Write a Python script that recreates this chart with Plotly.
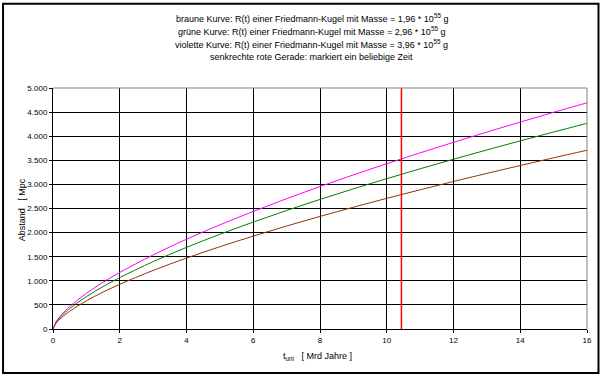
import plotly.graph_objects as go

t = [0, 0.1, 0.25, 0.5, 1, 1.5, 2, 3, 4, 5, 6, 7, 8, 9, 10, 11, 12, 13, 14, 15, 16]
braun = [0, 126, 232, 368, 584, 766, 927, 1215, 1471, 1707, 1927, 2137, 2336, 2527, 2711, 2888, 3061, 3229, 3392, 3552, 3708]
gruen = [0, 145, 267, 423, 672, 880, 1066, 1398, 1693, 1965, 2218, 2459, 2688, 2908, 3119, 3324, 3522, 3715, 3904, 4087, 4267]
violett = [0, 159, 293, 466, 739, 968, 1173, 1537, 1862, 2161, 2439, 2704, 2956, 3198, 3430, 3655, 3873, 4086, 4293, 4495, 4693]
t_rot = [10.44, 10.44]
r_rot = [0, 5000]

x_ticks = [0, 2, 4, 6, 8, 10, 12, 14, 16]
y_ticks = [0, 500, 1000, 1500, 2000, 2500, 3000, 3500, 4000, 4500, 5000]
y_labels = ["0", "500", "1.000", "1.500", "2.000", "2.500", "3.000", "3.500", "4.000", "4.500", "5.000"]

title_lines = [
    "braune Kurve: R(t) einer Friedmann-Kugel mit Masse = 1,96 * 10<sup>55</sup> g",
    "grüne Kurve: R(t) einer Friedmann-Kugel mit Masse = 2,96 * 10<sup>55</sup> g",
    "violette Kurve: R(t) einer Friedmann-Kugel mit Masse = 3,96 * 10<sup>55</sup> g",
    "senkrechte rote Gerade: markiert ein beliebige Zeit",
]

FONT = "Liberation Sans, Arial, sans-serif"
W, H = 604, 378
L, R, T, B = 53, 16.5, 87.5, 49
pw, ph = W - L - R, H - T - B

def px(x):
    return (x - L) / pw

def py(y):
    return (H - B - y) / ph

fig = go.Figure()
fig.add_trace(go.Scatter(x=t, y=braun, mode="lines", line=dict(color="#993300", width=1), line_shape="spline"))
fig.add_trace(go.Scatter(x=t, y=gruen, mode="lines", line=dict(color="#008000", width=1), line_shape="spline"))
fig.add_trace(go.Scatter(x=t, y=violett, mode="lines", line=dict(color="#FF00FF", width=1), line_shape="spline"))
fig.add_trace(go.Scatter(x=t_rot, y=r_rot, mode="lines", line=dict(color="#FF0000", width=1.5)))

annotations = []
for i, line in enumerate(title_lines):
    annotations.append(dict(text=line, xref="paper", yref="paper", x=px(312), y=py(17 + 13 * i),
                            showarrow=False, xanchor="center", yanchor="middle",
                            font=dict(family=FONT, size=9, color="black")))
annotations.append(dict(text="Abstand   [ Mpc", xref="paper", yref="paper", x=px(22), y=py(210),
                        showarrow=False, textangle=-90, xanchor="center", yanchor="middle",
                        font=dict(family=FONT, size=9, color="black")))
annotations.append(dict(text="t<sub>uni</sub>   [ Mrd Jahre ]", xref="paper", yref="paper", x=px(318), y=py(357),
                        showarrow=False, xanchor="center", yanchor="middle",
                        font=dict(family=FONT, size=9, color="black")))

shapes = [
    dict(type="line", xref="paper", yref="paper", x0=0, x1=1, y0=1, y1=1, line=dict(color="#808080", width=1), layer="above"),
    dict(type="line", xref="paper", yref="paper", x0=1, x1=1, y0=0, y1=1, line=dict(color="#808080", width=1), layer="above"),
    dict(type="rect", xref="paper", yref="paper", x0=px(3), x1=px(599), y0=py(3), y1=py(373),
         line=dict(color="black", width=2), layer="above"),
]

fig.update_layout(
    width=W, height=H,
    margin=dict(l=L, r=R, t=T, b=B, pad=0, autoexpand=False),
    paper_bgcolor="white", plot_bgcolor="white",
    showlegend=False,
    annotations=annotations,
    shapes=shapes,
    font=dict(family=FONT, size=8, color="black"),
    xaxis=dict(range=[0, 16], tickvals=x_ticks, ticktext=[str(v) for v in x_ticks],
               showgrid=True, gridcolor="black", gridwidth=1, zeroline=False,
               showline=True, linecolor="black", linewidth=1,
               ticks="outside", ticklen=3, tickcolor="black", automargin=False,
               tickfont=dict(family=FONT, size=8, color="black")),
    yaxis=dict(range=[0, 5000], tickvals=y_ticks, ticktext=y_labels,
               showgrid=True, gridcolor="black", gridwidth=1, zeroline=False,
               showline=True, linecolor="black", linewidth=1,
               ticks="outside", ticklen=3, tickcolor="black", automargin=False,
               tickfont=dict(family=FONT, size=8, color="black")),
)

fig.write_html("out.html", config={"displayModeBar": False},
               post_script="document.body.style.margin='0px';document.body.style.overflow='hidden';")
